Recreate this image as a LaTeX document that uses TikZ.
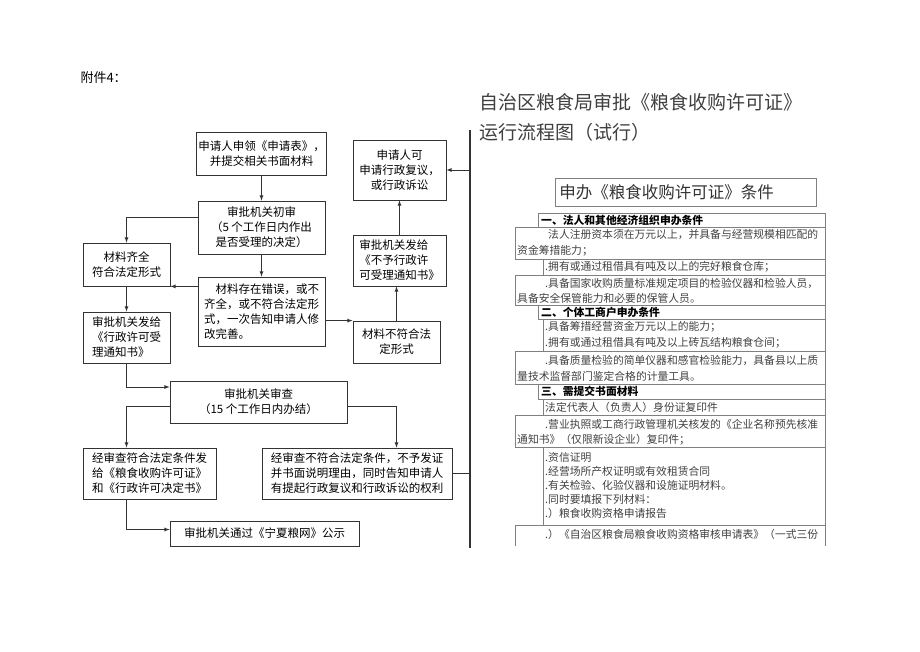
\documentclass[tikz,border=0pt]{standalone}
\usepackage{fontspec}
\setmainfont{Noto Sans CJK SC}
\usetikzlibrary{arrows,positioning,calc}

\begin{document}
\begin{tikzpicture}[x=1pt,y=-1pt,
  box/.style={draw=black!80,line width=.8pt,inner sep=2pt,font=\fontsize{11.5}{15}\selectfont,align=center},
  link/.style={draw=black!80,line width=.8pt},
  arr/.style={link,-latex},
  tabline/.style={draw=black!50,line width=.6pt},
  tabtxt/.style={anchor=west,inner sep=0pt,text=black!75,font=\fontsize{10.8}{13}\selectfont},
  tabhead/.style={anchor=west,inner sep=0pt,text=black,font=\fontsize{10.8}{13}\selectfont\bfseries}]
      \useasboundingbox (0,0) rectangle (920,651);
      \node[anchor=west,font=\fontsize{13}{15}\selectfont] (att) at (77,78) {附件4：};

      % left: flow chart
      \node[box,minimum width=127pt,minimum height=43pt] (req) at (261.5,153.5) {申请人申领《申请表》，\\并提交相关书面材料};
      \node[box,minimum width=127pt,minimum height=53pt] (chk) at (261.5,227.5) {审批机关初审\\（5 个工作日内作出\\是否受理的决定）};
      \node[box,minimum width=87pt,minimum height=43pt] (ok) at (126.5,264.5) {材料齐全\\符合法定形式};
      \node[box,align=left,minimum width=127pt,minimum height=69pt] (err) at (261.5,311.5) {\hspace*{1em}材料存在错误，或不\\齐全，或不符合法定形\\式，一次告知申请人修\\改完善。};
      \node[box,minimum width=87pt,minimum height=42pt] (bad) at (396.5,342) {材料不符合法\\定形式};
      \node[box,align=left,minimum width=93pt,minimum height=51pt] (refuse) at (399.5,260.5) {审批机关发给\\《不予行政许\\可受理通知书》};
      \node[box,minimum width=93pt,minimum height=60pt] (appeal) at (399.5,170) {申请人可\\申请行政复议，\\或行政诉讼};
      \node[box,align=left,minimum width=87pt,minimum height=51pt] (accept) at (126.5,337.5) {审批机关发给\\《行政许可受\\理通知书》};
      \node[box,minimum width=177pt,minimum height=42pt] (review) at (258.5,402) {审批机关审查\\（15 个工作日内办结）};
      \node[box,align=left,minimum width=133pt,minimum height=51pt] (grant) at (149.5,473.5) {经审查符合法定条件发\\给《粮食收购许可证》\\和《行政许可决定书》};
      \node[box,align=left,minimum width=190pt,minimum height=51pt] (deny) at (357,473.5) {经审查不符合法定条件，不予发证\\并书面说明理由，同时告知申请人\\有提起行政复议和行政诉讼的权利};
      \node[box,minimum width=189pt,minimum height=25pt] (pub) at (264.5,533.5) {审批机关通过《宁夏粮网》公示};

      \coordinate (busT) at (470,130);
      \coordinate (busB) at (470,548);

      \draw[arr] (req) -- (chk);
      \draw[arr] ([yshift=10pt]chk.west) -| (ok.north);
      \draw[arr] (chk) -- (err);
      \draw[arr] (err.west |- ok.south east) -- (ok.south east);
      \draw[arr] (err.east |- bad.north west) -- (bad.north west);
      \draw[arr] (bad) -- (bad |- refuse.south);
      \draw[arr] (refuse) -- (appeal);
      \draw[link,line width=1.2pt] (busT) -- (busB);
      \draw[arr] (busT |- appeal.east) -- (appeal.east);
      \draw[arr] (ok) -- (accept);
      \draw[arr] (accept.south) |- ([yshift=15pt]review.west);
      \draw[arr] ([yshift=-4pt]review.west) -| (accept.south |- grant.north);
      \draw[arr] ([yshift=-4pt]review.east) -| (bad.north |- deny.north);
      \draw[link] (deny.east) -- (deny.east -| busT);
      \draw[arr] (accept.south |- grant.south) |- ([yshift=4pt]pub.west);

      % right: title and conditions table
      \node[anchor=west,text=black!75,font=\fontsize{19}{22}\selectfont] (title1) at (476,102) {自治区粮食局审批《粮食收购许可证》};
      \node[anchor=west,text=black!75,font=\fontsize{19}{22}\selectfont] (title2) at (476,132) {运行流程图（试行）};
      \node[draw=black!50,line width=.6pt,anchor=north west,minimum height=28pt,text width=253pt,inner xsep=4pt,text=black!80,font=\fontsize{16.5}{18}\selectfont] (head) at (555,178) {申办《粮食收购许可证》条件};

      \foreach \l/\t/\b in {538/213/227,515/227/259,543/259/275,515/275/305,538/305/319,543/319/351,515/351/384,538/384/399,543/399/415,515/415/447,543/447/525}
        \draw[tabline] (\l,\t) rectangle (825,\b);
      \draw[tabline] (515,546) -- (515,525) -- (825,525) -- (825,546);

      \foreach \x/\y/\txt [count=\i] in {541/220/一、法人和其他经济组织申办条件,541/312/二、个体工商户申办条件,541/391/三、需提交书面材料}
        \node[tabhead] (h\i) at (\x,\y) {\txt};
      \foreach \x/\y/\txt [count=\i] in {
          548/235/法人注册资本须在万元以上，并具备与经营规模相匹配的,
          517/251/资金筹措能力；,
          545/267/.拥有或通过租借具有吨及以上的完好粮食仓库；,
          545/283/.具备国家收购质量标准规定项目的检验仪器和检验人员，,
          517/298/具备安全保管能力和必要的保管人员。,
          545/327/.具备筹措经营资金万元以上的能力；,
          545/343/.拥有或通过租借具有吨及以上砖瓦结构粮食仓间；,
          545/360/.具备质量检验的简单仪器和感官检验能力，具备县以上质,
          517/376/量技术监督部门鉴定合格的计量工具。,
          545/407/法定代表人（负责人）身份证复印件,
          545/424/.营业执照或工商行政管理机关核发的《企业名称预先核准,
          517/440/通知书》（仅限新设企业）复印件；,
          545/457/.资信证明,
          545/471/.经营场所产权证明或有效租赁合同,
          545/485/.有关检验、化验仪器和设施证明材料。,
          545/499/.同时要填报下列材料：,
          545/513/.）粮食收购资格申请报告,
          545/534/.）《自治区粮食局粮食收购资格审核申请表》（一式三份}
        \node[tabtxt] (r\i) at (\x,\y) {\txt};
\end{tikzpicture}
\end{document}
